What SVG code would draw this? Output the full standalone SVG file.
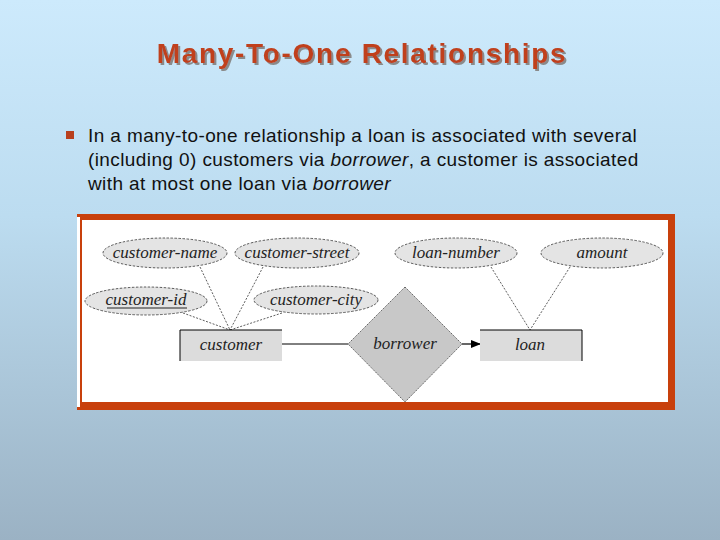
<svg xmlns="http://www.w3.org/2000/svg" width="720" height="540" viewBox="0 0 720 540">
<defs>
<linearGradient id="bg" x1="0" y1="0" x2="0" y2="1">
<stop offset="0" stop-color="#cdeafc"/>
<stop offset="0.4" stop-color="#bcdcf0"/>
<stop offset="1" stop-color="#9bb2c4"/>
</linearGradient>
<filter id="shadow" x="-5%" y="-20%" width="110%" height="150%">
<feDropShadow dx="2" dy="2" stdDeviation="0.3" flood-color="#8a8a8a" flood-opacity="1"/>
</filter>
<marker id="arr" markerWidth="10" markerHeight="8" refX="9" refY="4" orient="auto" markerUnits="userSpaceOnUse">
<path d="M0,0 L10,4 L0,8 Z" fill="#000"/>
</marker>
<style>
.attr{fill:#e4e4e4;stroke:#333;stroke-width:0.8;stroke-dasharray:2.5,1.5}
.lbl{font-family:"Liberation Serif",serif;font-style:italic;font-size:17px;fill:#222;text-anchor:middle}
.dash{stroke:#333;stroke-width:0.8;stroke-dasharray:2,1.5;fill:none}
.body{font-family:"Liberation Sans",Arial,sans-serif;font-size:19px;letter-spacing:0.4px;fill:#111}
</style>
</defs>
<rect width="720" height="540" fill="url(#bg)"/>
<g id="title">
<text x="362" y="63" text-anchor="middle" font-family="Liberation Sans,Arial,sans-serif" font-weight="bold" font-size="28" letter-spacing="1.7" fill="#c0401c" filter="url(#shadow)">Many-To-One Relationships</text>
</g>
<g id="bullet">
<rect x="66" y="131" width="8" height="8" fill="#b8401e"/>
<text class="body" x="88" y="142">In a many-to-one relationship a loan is associated with several</text>
<text class="body" x="88" y="166">(including 0) customers via <tspan font-style="italic">borrower</tspan>, a customer is associated</text>
<text class="body" x="88" y="190">with at most one loan via <tspan font-style="italic">borrower</tspan></text>
</g>
<g id="frame">
<rect x="77" y="214" width="598" height="196" fill="#c8400c"/>
<rect x="77" y="217" width="3" height="190" fill="#fff"/>
<rect x="82" y="220" width="586" height="182" fill="#fff"/>
</g>
<g id="connectors">
<line class="dash" x1="200" y1="267" x2="230" y2="330"/>
<line class="dash" x1="263" y1="267" x2="230" y2="330"/>
<line class="dash" x1="183" y1="313" x2="230" y2="330"/>
<line class="dash" x1="282" y1="313" x2="230" y2="330"/>
<line class="dash" x1="491" y1="267" x2="530" y2="330"/>
<line class="dash" x1="570" y1="267" x2="530" y2="330"/>
<line x1="282" y1="344" x2="348" y2="344" stroke="#000" stroke-width="1"/>
<line x1="462" y1="344" x2="480" y2="344" stroke="#000" stroke-width="1.2" marker-end="url(#arr)"/>
</g>
<g id="customer-name"><ellipse class="attr" cx="165" cy="253" rx="62" ry="15"/><text class="lbl" x="165" y="258">customer-name</text></g>
<g id="customer-street"><ellipse class="attr" cx="297" cy="253" rx="62" ry="15"/><text class="lbl" x="297" y="258">customer-street</text></g>
<g id="customer-id"><ellipse class="attr" cx="146" cy="301" rx="61" ry="14"/><text class="lbl" x="146" y="305">customer-id</text><line x1="107" y1="308" x2="187" y2="308" stroke="#222" stroke-width="1"/></g>
<g id="customer-city"><ellipse class="attr" cx="316" cy="300" rx="62" ry="14"/><text class="lbl" x="316" y="305">customer-city</text></g>
<g id="loan-number"><ellipse class="attr" cx="456" cy="253" rx="61" ry="15"/><text class="lbl" x="456" y="258">loan-number</text></g>
<g id="amount"><ellipse class="attr" cx="602" cy="253" rx="61" ry="15"/><text class="lbl" x="602" y="258">amount</text></g>
<g id="customer">
<rect x="180" y="330" width="102" height="31" fill="#dcdcdc"/>
<path d="M180,361 V330 H282" fill="none" stroke="#000" stroke-width="1"/>
<text class="lbl" x="231" y="350">customer</text>
</g>
<g id="borrower">
<polygon points="405,287 462,344 405,402 348,344" fill="#c8c8c8" stroke="#444" stroke-width="0.8" stroke-dasharray="1.5,1"/>
<text class="lbl" x="405" y="349">borrower</text>
</g>
<g id="loan">
<rect x="480" y="330" width="102" height="31" fill="#dcdcdc"/>
<path d="M480,330 H582 V361" fill="none" stroke="#000" stroke-width="1"/>
<text class="lbl" x="530" y="350">loan</text>
</g>
</svg>
